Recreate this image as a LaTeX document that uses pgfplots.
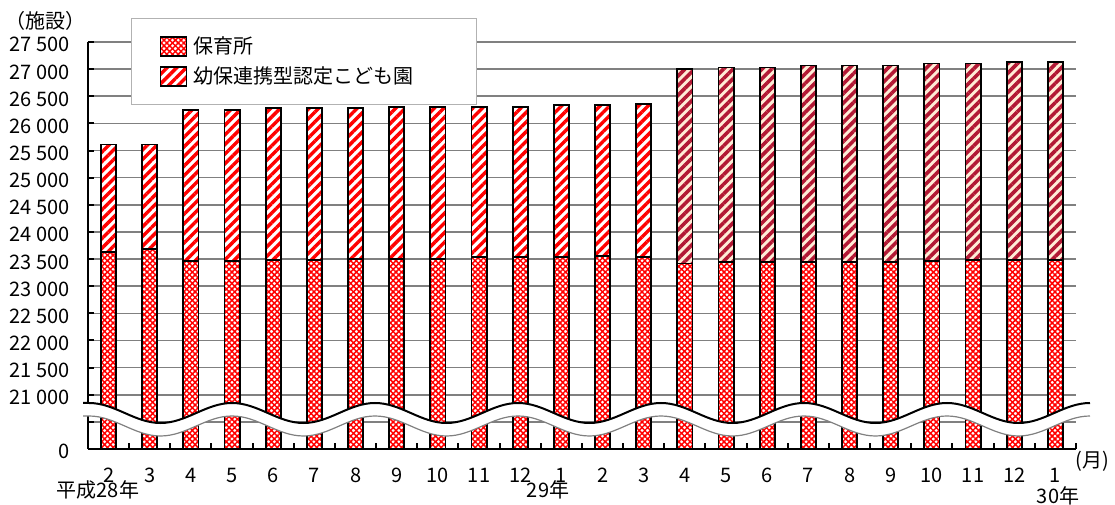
\documentclass[border=0pt]{standalone}
\usepackage{fontspec}
\setmainfont{Noto Sans CJK JP}
\usepackage{pgfplots}
\pgfplotsset{compat=1.18}
\usetikzlibrary{patterns,patterns.meta}

\definecolor{gridgray}{RGB}{128,128,128}
\definecolor{darkstripe}{RGB}{178,24,52}
\definecolor{cream}{RGB}{255,236,214}

\pgfplotsset{
  patchlegend/.style={legend image code/.code={\draw[##1] (0pt,-4.75pt) rectangle (13pt,4.75pt);}},
  % red diagonal grid with white holes
  hoiku/.style={draw=black, line width=0.9pt, fill=white,
    postaction={pattern={Lines[angle=45,distance=2pt,line width=0.75pt]}, pattern color=red},
    postaction={pattern={Lines[angle=-45,distance=2pt,line width=0.75pt]}, pattern color=red},
    patchlegend},
  kodomoA/.style={draw=black, line width=0.9pt, fill=white,
    postaction={pattern={Lines[angle=45,distance=3.4pt,line width=1.7pt]}, pattern color=red}, patchlegend},
  kodomoB/.style={draw=black, line width=0.9pt, fill=cream,
    postaction={pattern={Lines[angle=45,distance=3.4pt,line width=1.8pt]}, pattern color=darkstripe}, patchlegend},
}

\begin{document}
\begin{tikzpicture}[font=\fontsize{10}{12}\selectfont]
\useasboundingbox (-44pt,-27.5pt) rectangle (513.5pt,224.5pt);
\begin{axis}[
  at={(0pt,0pt)}, anchor=south west,
  scale only axis, width=494pt, height=203.5pt,
  xmin=-0.5, xmax=23.5, ymin=20000, ymax=27500,
  axis lines=left, axis line style={-, line width=1pt, black},
  ybar, bar width=7.6pt, bar shift=0pt,
  xtick={0,...,23},
  xticklabels={2,3,4,5,6,7,8,9,10,11,12,1,2,3,4,5,6,7,8,9,10,11,12,1},
  minor xtick={-0.5,0.5,...,23.5},
  major x tick style={draw=none},
  ytick={20000,20500,...,27500},
  yticklabels={0,{},21 000,21 500,22 000,22 500,23 000,23 500,24 000,24 500,25 000,25 500,26 000,26 500,27 000,27 500},
  scaled y ticks=false,
  ymajorgrids, grid style={gridgray, line width=0.8pt},
  tick align=inside, major tick length=3pt, minor tick length=3pt,
  tick style={black, line width=1pt},
  xticklabel style={anchor=base, yshift=-16.5pt, inner sep=0pt},
  yticklabel style={anchor=base east, yshift=-5pt, xshift=-9pt, inner sep=0pt},
  legend style={at={(0.0435,1.059)}, anchor=north west, draw=black!30, line width=0.6pt,
    fill=white, inner xsep=14pt, inner ysep=7pt, row sep=1pt,
    /tikz/every odd column/.append style={column sep=1pt}},
  legend cell align=left,
  reverse legend,
]
% total (nursery + kodomo-en), Feb 2016 - Mar 2017
\addplot[kodomoA] coordinates {
  (0,25610) (1,25610) (2,26246) (3,26246) (4,26278) (5,26278) (6,26278)
  (7,26309) (8,26309) (9,26309) (10,26309) (11,26346) (12,26346) (13,26352)
};
\addlegendentry{幼保連携型認定こども園\hspace*{15.5pt}}
% total, Apr 2017 - Jan 2018
\addplot[kodomoB, forget plot] coordinates {
  (14,27000) (15,27031) (16,27031) (17,27068) (18,27068) (19,27068)
  (20,27105) (21,27105) (22,27136) (23,27136)
};
% nursery
\addplot[hoiku] coordinates {
  (0,23635) (1,23680) (2,23469) (3,23469) (4,23481) (5,23481) (6,23494) (7,23494)
  (8,23494) (9,23543) (10,23543) (11,23543) (12,23550) (13,23543) (14,23420) (15,23444)
  (16,23444) (17,23444) (18,23444) (19,23444) (20,23469) (21,23481) (22,23481) (23,23481)
};
\addlegendentry{保育所}
\end{axis}

% axis break
\fill[white] (-2.5pt,23pt) -- (0.5pt,23pt)
  \foreach \k in {1,...,7} {cos ++(17.875pt,-5pt) sin ++(17.875pt,-5pt) cos ++(17.875pt,5pt) sin ++(17.875pt,5pt)}
  -- (501pt,16.5pt)
  \foreach \k in {1,...,7} {cos ++(-17.875pt,-5pt) sin ++(-17.875pt,-5pt) cos ++(-17.875pt,5pt) sin ++(-17.875pt,5pt)}
  -- (-2.5pt,16.5pt) -- cycle;
\draw[black, line width=1pt] (-2.5pt,23pt) -- (0.5pt,23pt)
  \foreach \k in {1,...,7} {cos ++(17.875pt,-5pt) sin ++(17.875pt,-5pt) cos ++(17.875pt,5pt) sin ++(17.875pt,5pt)};
\draw[gridgray, line width=0.6pt] (-2.5pt,16.5pt) -- (0.5pt,16.5pt)
  \foreach \k in {1,...,7} {cos ++(17.875pt,-5pt) sin ++(17.875pt,-5pt) cos ++(17.875pt,5pt) sin ++(17.875pt,5pt)};

\node at (-21.5pt,214pt) {（施設）};
\node at (5pt,-20.5pt) {平成28年};
\node at (230pt,-20.5pt) {29年};
\node at (485pt,-23.5pt) {30年};
\node at (502pt,-6pt) {(月)};
\end{tikzpicture}
\end{document}
